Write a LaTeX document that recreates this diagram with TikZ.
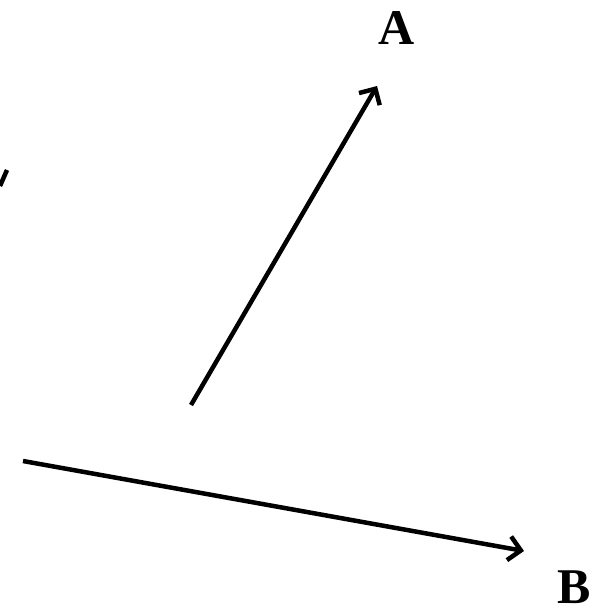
\documentclass[tikz,border=0pt]{standalone}
\usepackage{fontspec}
\setmainfont{Liberation Serif}[BoldFont={Liberation Serif Bold}]
\usetikzlibrary{arrows.meta}

\begin{document}
\begin{tikzpicture}[
  x=1pt, y=-1pt,
  vec/.style={-{Straight Barb[length=12pt, width=24pt, line width=4.5pt]},
    line width=4.5pt},
  lbl/.style={font=\fontsize{50}{50}\selectfont\bfseries, inner sep=0pt},
]
  % page frame
  \useasboundingbox (0,0) rectangle (604,613);

  % labels
  \node[lbl] (A) at (397,28) {A};
  \node[lbl] (B) at (574,587) {B};

  % end points
  \coordinate (a0) at (191,405);
  \coordinate (a1) at (377,86);
  \coordinate (b0) at (23,461);
  \coordinate (b1) at (524,551);

  % vectors
  \draw[vec] (a0) -- (a1);
  \draw[vec] (b0) -- (b1);

  % cut-off stroke at left edge
  \draw[line width=4.5pt] (0,186) -- (7,170);
\end{tikzpicture}
\end{document}
